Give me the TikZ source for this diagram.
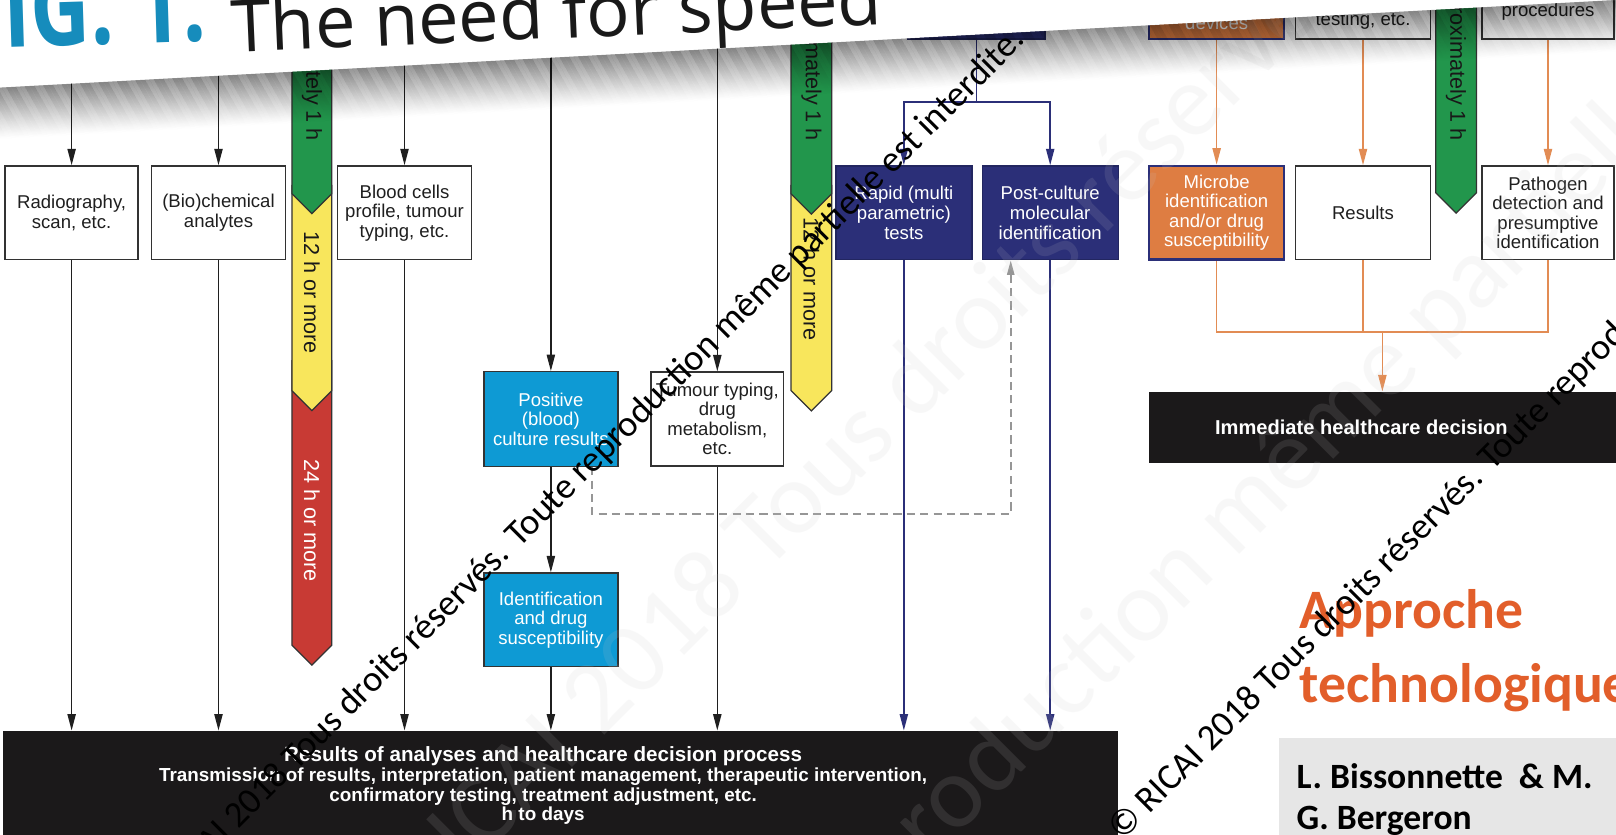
\documentclass[tikz,border=0pt]{standalone}
\usepackage{fontspec}
\setmainfont{Liberation Sans}
\newfontfamily\carlito{Carlito}
\newfontfamily\opensans{Open Sans}
\usetikzlibrary{arrows.meta}
\definecolor{navy}{RGB}{43,47,120}
\definecolor{cyanbox}{RGB}{14,154,212}
\definecolor{orbox}{RGB}{222,125,66}
\definecolor{orline}{RGB}{226,140,84}
\definecolor{barg}{RGB}{34,150,76}
\definecolor{bary}{RGB}{248,230,92}
\definecolor{barr}{RGB}{200,58,52}
\definecolor{boxline}{RGB}{50,50,50}
\definecolor{blk}{RGB}{27,25,26}
\definecolor{titleblue}{RGB}{22,140,188}
\definecolor{apporange}{RGB}{226,94,42}
\definecolor{authgray}{RGB}{230,230,230}
\definecolor{dashgray}{RGB}{150,150,150}
\definecolor{wmfaint}{RGB}{200,200,200}
\begin{document}
\begin{tikzpicture}[x=1pt,y=-1pt,
  bx/.style={draw=boxline, line width=1.3pt, fill=white, align=center, inner sep=0pt,
    font=\fontsize{18}{19}\selectfont, text=black!88, minimum height=91pt},
  nbx/.style={bx, fill=navy, draw=navy!80!black, text=white},
  cbx/.style={bx, fill=cyanbox, draw=black!80, text=white},
  obx/.style={bx, fill=orbox, draw=navy, line width=2.5pt, text=white},
  arr/.style={-{Triangle[length=16pt,width=8pt]}, line width=1.5pt, draw=black!88},
  narr/.style={arr, draw=navy},
  oarr/.style={arr, draw=orline},
  nline/.style={draw=navy, line width=1.5pt},
  oline/.style={draw=orline, line width=1.5pt},
  barline/.style={draw=black!80, line width=1.2pt},
  bartext/.style={rotate=-90, inner sep=0pt, font=\fontsize{21}{21}\selectfont, text=black!90},
  wm/.style={rotate=45, inner sep=0pt, font=\carlito\fontsize{35.5}{35.5}\selectfont, text=black},
  wmf/.style={rotate=45, inner sep=0pt, font=\carlito\fontsize{100}{100}\selectfont, text=wmfaint, text opacity=0.13},
  blackbox/.style={fill=blk, inner sep=0pt}
]
\useasboundingbox (0,0) rectangle (1568,810);
\clip (0,0) rectangle (1568,810);
\fill[white] (0,0) rectangle (1568,810);

% ---------- bars ----------
\fill[barr, barline] (283.3,350) -- (322,350) -- (322,626) -- (302.65,645.35) -- (283.3,626) -- cycle;
\fill[bary, barline] (283.3,180) -- (322,180) -- (322,379) -- (302.65,398.35) -- (283.3,379) -- cycle;
\fill[barg, barline] (283.3,-20) -- (322,-20) -- (322,188) -- (302.65,207.35) -- (283.3,188) -- cycle;
\fill[bary, barline] (767.5,180) -- (807,180) -- (807,379) -- (787.25,398.75) -- (767.5,379) -- cycle;
\fill[barg, barline] (767.5,-20) -- (807,-20) -- (807,188) -- (787.25,207.75) -- (767.5,188) -- cycle;
\fill[barg, barline] (1393,-20) -- (1432.6,-20) -- (1432.6,187) -- (1412.8,206.8) -- (1393,187) -- cycle;
\node[bartext, anchor=east] (g1t) at (302.65,137) {Approximately 1 h};
\node[bartext, anchor=east] (g2t) at (787.25,137) {Approximately 1 h};
\node[bartext, anchor=east] (g3t) at (1412.8,137) {Approximately 1 h};
\node[bartext] (y1t) at (302.65,284) {12 h or more};
\node[bartext] (y2t) at (787.25,271) {12 h or more};
\node[bartext, text=white] (r1t) at (302.65,505) {24 h or more};

% ---------- boxes ----------
\node[bx, minimum width=129pt] (rad) at (69.5,206.5) {Radiography,\\scan, etc.};
\node[bx, minimum width=130pt] (bio) at (212,206.5) {(Bio)chemical\\analytes};
\node[bx, minimum width=130pt] (blood) at (392.5,206.5) {Blood cells\\profile, tumour\\typing, etc.};
\node[nbx, minimum width=132pt] (rapid) at (877,206.5) {Rapid (multi\\parametric)\\tests};
\node[nbx, minimum width=132pt] (post) at (1019,206.5) {Post-culture\\molecular\\identification};
\node[obx, minimum width=131pt] (microbe) at (1180.5,206.5) {Microbe\\identification\\and/or drug\\susceptibility};
\node[bx, minimum width=131pt] (results) at (1322.5,206.5) {Results};
\node[bx, minimum width=128pt] (patho) at (1502,206.5) {Pathogen\\detection and\\presumptive\\identification};

\node[nbx, minimum width=133pt, minimum height=98pt] (navytop) at (947.5,-11) {};
\node[obx, minimum width=131pt, minimum height=98pt] (devices) at (1180.5,-11) {};
\node[bx, minimum width=131pt, minimum height=98pt] (testing) at (1322.5,-11) {};
\node[bx, minimum width=128pt, minimum height=98pt] (proced) at (1502,-11) {};
\node[font=\fontsize{18}{19}\selectfont, text=white, inner sep=0pt] (devtxt) at (1180.5,22) {devices};
\node[font=\fontsize{18}{19}\selectfont, text=black!88, inner sep=0pt] (testtxt) at (1322.5,20) {testing, etc.};
\node[font=\fontsize{18}{19}\selectfont, text=black!88, inner sep=0pt] (proctxt) at (1502,11) {procedures};

\node[cbx, minimum width=130pt, minimum height=92pt] (pos) at (534.5,406.7) {Positive\\(blood)\\culture results};
\node[bx, minimum width=129pt] (tum) at (696,406.5) {Tumour typing,\\drug\\metabolism,\\etc.};
\node[cbx, minimum width=130pt] (ident) at (534.5,601.5) {Identification\\and drug\\susceptibility};

\node[blackbox, minimum width=453.4pt, minimum height=69pt] (immed) at (1341.3,414.5) {};
\node[text=white, inner sep=0pt, font=\bfseries\fontsize{19.5}{19.5}\selectfont] (immtxt) at (1321,414.5) {Immediate healthcare decision};
\node[blackbox, minimum width=1082pt, minimum height=125pt] (bottom) at (544,771.5) {};
\node[text=white, inner sep=0pt, align=center, font=\bfseries\fontsize{18.3}{19}\selectfont] (bottxt) at (527,762.5)
  {{\fontsize{20}{19}\selectfont Results of analyses and healthcare decision process}\\
   Transmission of results, interpretation, patient management, therapeutic intervention,\\
   confirmatory testing, treatment adjustment, etc.\\
   h to days};

% ---------- connectors ----------
\coordinate (top) at (0,-30);
\foreach \b in {rad,bio,blood,tum} {
  \draw[arr] (\b.north |- top) -- (\b.north);
  \draw[arr] (\b.south) -- (\b.south |- bottom.north);
}
\draw[arr] (pos.north |- top) -- (pos.north);
\draw[arr] (pos.south) -- (ident.north);
\draw[arr] (ident.south) -- (ident.south |- bottom.north);

\coordinate (nj) at (947.5,99);
\draw[nline] (navytop.south) -- (nj);
\draw[narr] (nj) -| (rapid.north);
\draw[narr] (nj) -| (post.north);
\draw[narr] (rapid.south) -- (rapid.south |- bottom.north);
\draw[narr] (post.south) -- (post.south |- bottom.north);

\draw[oarr] (devices.south) -- (microbe.north);
\draw[oarr] (testing.south) -- (results.north);
\draw[oarr] (proced.south) -- (patho.north);
\coordinate (oj) at (1341.3,322);
\draw[oline] (microbe.south) |- (patho.south |- oj) -- (patho.south);
\draw[oline] (results.south) -- (results.south |- oj);
\draw[oarr] (oj) -- (immed.north);

\draw[draw=dashgray, line width=1.8pt, dash pattern=on 8pt off 5pt, -{Triangle[length=14pt,width=7pt]}]
  ([xshift=39.5pt]pos.south) -- ++(0,45.2) -| ([xshift=-38.3pt]post.south);

% ---------- right-hand texts ----------
\node[anchor=base west, inner sep=0pt, font=\carlito\bfseries\fontsize{54}{54}\selectfont, text=apporange] (ap1) at (1261,610) {Approche};
\node[anchor=base west, inner sep=0pt, font=\carlito\bfseries\fontsize{54}{54}\selectfont, text=apporange] (ap2) at (1261,682) {technologique};
\node[fill=authgray, anchor=north west, minimum width=330pt, minimum height=100pt, inner sep=0pt] (auth) at (1241,716) {};
\node[anchor=base west, inner sep=0pt, font=\carlito\bfseries\fontsize{34.5}{34.5}\selectfont] (a1) at (1258,765) {L. Bissonnette\ \ \& M.};
\node[anchor=base west, inner sep=0pt, font=\carlito\bfseries\fontsize{34.5}{34.5}\selectfont] (a2) at (1258,805) {G. Bergeron};

% ---------- faint watermarks ----------
\node[wmf, anchor=base west] (wf1) at (340,960) {© RICAI 2018 Tous droits réservés. Toute reproduction même partielle est interdite.};
\node[wmf, anchor=base west] (wf2) at (-381,2121) {© RICAI 2018 Tous droits réservés. Toute reproduction même partielle est interdite.};

% ---------- top page region ----------
\fill[white] (-5,-10) -- (1575,-10) -- (1575,-0.38) -- (-5,85.27) -- cycle;
\foreach \i in {0,...,49} {
  \pgfmathsetmacro\op{0.45*(1-\i/50)^1.2}
  \fill[black, fill opacity=\op] (-5,85.27+\i) -- (1575,-0.38+\i) -- (1575,0.62+\i) -- (-5,86.27+\i) -- cycle;
}
\node[anchor=base west, rotate=1.75, yscale=1.3, inner sep=0pt, font=\opensans\bfseries\fontsize{80}{80}\selectfont, text=titleblue] (fig) at (-40,47) {FIG. 1.};
\node[anchor=base west, rotate=2.5, inner sep=0pt, font=\opensans\fontsize{70}{70}\selectfont, text=black!90] (ttl) at (225,51) {The need for speed};

% ---------- black watermarks ----------
\node[wm, anchor=base east] (wmA) at (996,40) {© RICAI 2018 Tous droits réservés. Toute reproduction même partielle est interdite.};
\node[wm, anchor=base west] (wmB) at (1089,817) {© RICAI 2018 Tous droits réservés. Toute reproduction même partielle est interdite.};
\end{tikzpicture}
\end{document}
